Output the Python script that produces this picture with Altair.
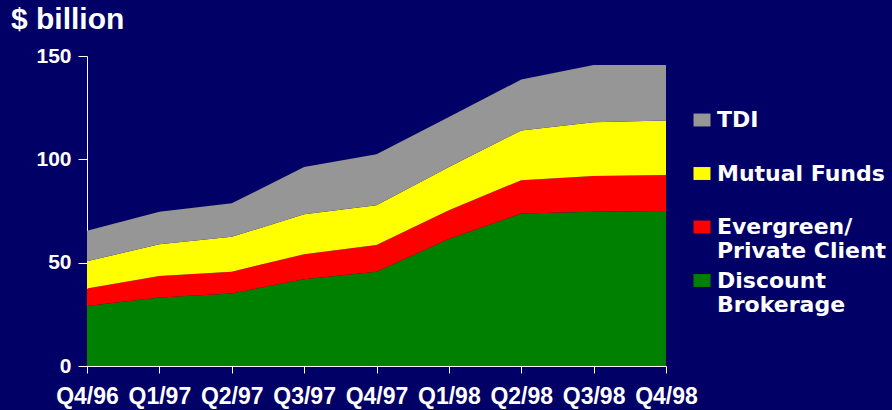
import altair as alt
import pandas as pd

quarters = ["Q4/96", "Q1/97", "Q2/97", "Q3/97", "Q4/97", "Q1/98", "Q2/98", "Q3/98", "Q4/98"]
discount = [29.0, 33.2, 35.1, 42.0, 45.6, 61.4, 73.8, 74.6, 75.0]
evergreen = [8.5, 10.4, 10.5, 12.1, 12.9, 14.0, 16.1, 17.3, 17.4]
mutual = [13.2, 15.3, 16.9, 19.3, 19.3, 20.9, 24.1, 26.1, 26.4]
tdi = [14.7, 15.7, 16.2, 22.9, 24.6, 24.2, 24.6, 27.6, 26.9]

# stacking order: first entry at the bottom
segments = ["Discount Brokerage", "Evergreen/ Private Client", "Mutual Funds", "TDI"]
segment_values = [discount, evergreen, mutual, tdi]
legend_order = ["TDI", "Mutual Funds", "Evergreen/ Private Client", "Discount Brokerage"]
colors = {"TDI": "#969696", "Mutual Funds": "#FFFF00",
          "Evergreen/ Private Client": "#FF0000", "Discount Brokerage": "#008000"}

rows = []
for order, (name, vals) in enumerate(zip(segments, segment_values)):
    for q, v in zip(quarters, vals):
        rows.append({"quarter": q, "segment": name, "value": v, "order": order})
df = pd.DataFrame(rows)

# every legend label is given two lines so that all entries have the same height
label_expr = (
    "datum.label == 'Evergreen/ Private Client' ? ['Evergreen/', 'Private Client'] : "
    "datum.label == 'Discount Brokerage' ? ['Discount', 'Brokerage'] : [datum.label, '']"
)

chart = alt.Chart(df).mark_area(opacity=1).encode(
    x=alt.X("quarter:N", sort=quarters,
            scale=alt.Scale(type="point", padding=0),
            axis=alt.Axis(title=None, labelAngle=0, domainColor="white", tickColor="white",
                          tickSize=7, labelPadding=12, labelColor="white",
                          labelFont="Liberation Sans",
                          labelFontWeight="bold", labelFontSize=23, grid=False)),
    y=alt.Y("value:Q", stack="zero",
            scale=alt.Scale(domain=[0, 150], nice=False),
            axis=alt.Axis(title=None, values=[0, 50, 100, 150], domainColor="white",
                          tickColor="white", tickSize=9, labelPadding=7, labelColor="white",
                          labelFont="Liberation Sans", labelFontWeight="bold",
                          labelFontSize=21, grid=False)),
    color=alt.Color("segment:N",
                    scale=alt.Scale(domain=legend_order,
                                    range=[colors[s] for s in legend_order]),
                    legend=alt.Legend(title=None, orient="none", legendX=604, legendY=53,
                                      padding=0, rowPadding=7.5,
                                      symbolType="M-1,-0.76H1V0.76H-1Z", symbolSize=289,
                                      symbolStrokeWidth=0, symbolOpacity=1,
                                      labelOffset=4, labelColor="white",
                                      labelFont="DejaVu Sans", labelFontWeight="bold",
                                      labelFontSize=22, labelLimit=400,
                                      labelBaseline="middle", labelExpr=label_expr)),
    order=alt.Order("order:Q"),
).properties(
    width=579,
    height=310,
    background="#000066",
    autosize=alt.AutoSizeParams(type="none"),
    padding={"left": 87, "top": 56, "right": 226, "bottom": 44},
    title=alt.TitleParams("$ billion", anchor="start", frame="group", dx=-76, dy=29,
                          offset=15, baseline="alphabetic", color="white",
                          font="Liberation Sans", fontWeight="bold", fontSize=30),
).configure_view(stroke=None)

chart.save("out.html", embed_options={"renderer": "svg", "actions": False})
